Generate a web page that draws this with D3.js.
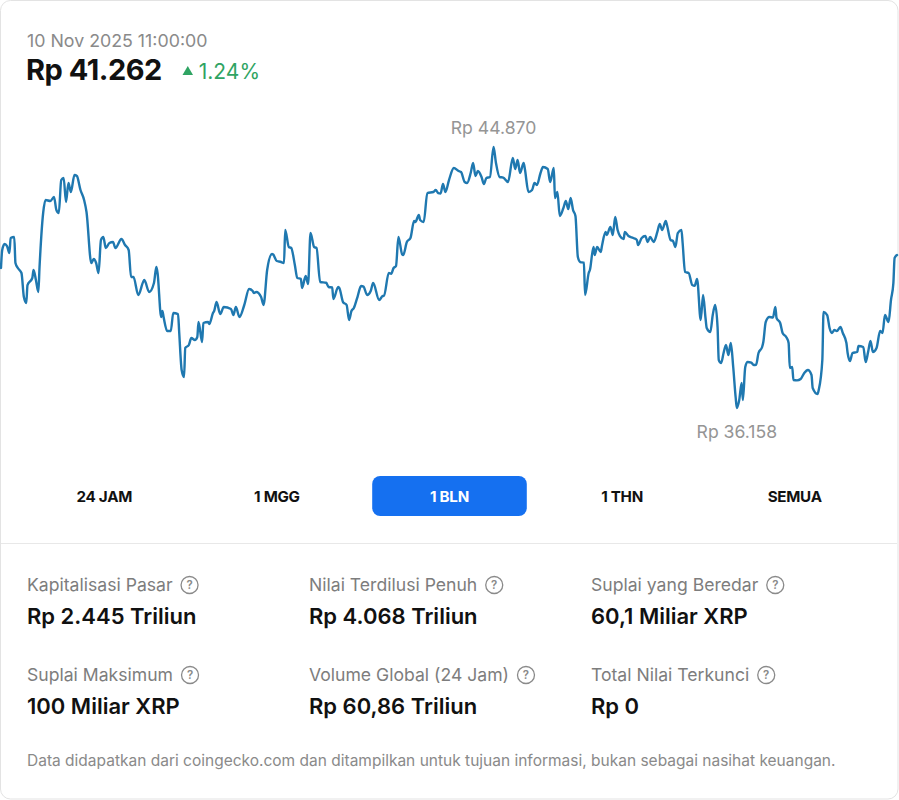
<!DOCTYPE html>
<html>
<head>
<meta charset="utf-8">
<script src="https://cdn.jsdelivr.net/npm/d3@7/dist/d3.min.js"></script>
<style>
  html, body { margin: 0; padding: 0; background: #fff; }
  svg { display: block; font-family: Inter, "Noto Sans", sans-serif; }
</style>
</head>
<body>
<svg id="chart" width="899" height="800"></svg>
<script>
// ---- data ----
const hours = [0,1,3,5,7,8,11,12,14,17,19,21,22,26,27,29,31,32,35,37,41,44,46,48,50,52,54,56,58,61,63,66,69,71,75,77,79,81,83,85,87,90,93,95,100,103,106,108,110,114,118,119,123,127,129,130,133,134,135,138,141,143,147,148,150,152,153,156,158,161,163,164,167,168,172,173,176,177,179,182,185,
191,193,195,198,202,206,209,210,212,216,218,221,225,226,229,232,235,236,239,241,244,246,249,250,253,255,257,260,262,265,270,272,275,276,280,281,284,287,289,291,293,296,299,301,304,307,309,314,317,318,322,324,326,328,330,333,334,337,340,343,344,347,348,351,354,359,361,363,
365,367,369,372,376,380,382,385,387,390,392,394,396,399,401,403,406,409,411,414,417,421,425,427,429,431,434,435,438,441,443,445,448,450,454,456,459,460,462,464,467,469,471,473,475,477,479,481,484,485,488,489,492,493,495,498,499,502,503,506,508,510,512,514,517,518,521,525,528,529,532,535,537,539,542,545,547,549,
552,553,556,558,560,562,565,566,568,571,574,576,578,581,583,585,586,589,591,593,595,596,598,600,602,604,606,608,610,611,613,615,616,618,620,623,625,627,629,632,633,635,638,641,643,644,647,649,652,654,655,657,658,661,664,667,670,673,674,678,679,682,683,686,688,690,692,694,697,699,702,703,705,707,711,712,716,718,720,722,724,727,730,732,734,737,739,741,742,744];
const prices = [40831,41432,41632,41565,41332,41832,41866,40998,40831,40664,39863,39663,40263,40497,40764,40430,40030,40864,42667,43101,43067,43201,42767,42667,43768,43835,43034,43668,43368,43935,43902,43435,43101,42700,40998,41131,40998,40664,41766,41866,41499,41666,41699,41499,41799,41599,41432,40530,40530,39930,40364,40430,40030,40330,40864,40664,39195,39396,39195,38728,38728,39329,39295,38661,37426,37192,38161,38261,38494,38428,38528,39028,38361,38995,39028,38962,39329,39396,39696,39295,39529,
39462,39262,39529,39195,39596,40130,40063,39996,40030,39863,39596,40764,41298,41280,41065,41040,40998,42099,41532,41500,40931,40497,40470,40163,40564,40297,41999,41532,41499,40364,40340,40197,40180,39796,40197,40163,39696,39596,39095,39396,39496,39863,40230,40210,39930,40063,40330,39763,39896,39900,40664,40640,40831,40898,41866,41298,41265,41699,41832,42400,42367,42600,42433,42367,43334,43368,43435,43334,
43320,43635,43368,43768,44169,44069,44036,43702,43668,44002,44336,43902,44069,43869,43635,43835,43869,44870,44336,43869,43850,43702,44503,44136,44436,44002,44336,44136,43368,43435,43668,43602,44002,44202,44136,43702,44169,43168,43368,42567,42834,43067,42800,43168,42767,42567,41198,41031,41010,39930,40664,40764,41532,41265,41532,41365,41565,42033,41932,42200,41932,42533,42099,41899,41799,42033,41899,41832,41766,41599,41832,41899,41699,41866,41699,42033,42300,42099,
42400,42266,41766,41732,41532,41999,42099,41666,40697,40664,40263,40240,40464,39095,39930,39162,38828,38694,39262,39596,38861,37760,37660,37994,38261,37927,38327,37526,36525,36158,36425,36992,36425,37526,37693,37670,37593,37600,37994,38194,38361,39028,39195,39180,39529,39162,38995,38661,38528,38327,37492,37526,37092,37080,37126,37326,37426,37259,36825,36625,36758,37760,39362,39262,38828,38661,38761,38728,38861,38661,38327,37994,37726,37994,38027,38227,38194,37693,38027,38394,38027,38161,38728,38661,39262,39028,39763,40330,41165,41262];

const timestampLabel = "10 Nov 2025 11:00:00";
const currentPrice = "Rp 41.262";
const changePct = "1.24%";
const rangeButtons = ["24 JAM", "1 MGG", "1 BLN", "1 THN", "SEMUA"];
const activeRange = "1 BLN";
const statLabels = ["Kapitalisasi Pasar", "Nilai Terdilusi Penuh", "Suplai yang Beredar", "Suplai Maksimum", "Volume Global (24 Jam)", "Total Nilai Terkunci"];
const statValues = ["Rp 2.445 Triliun", "Rp 4.068 Triliun", "60,1 Miliar XRP", "100 Miliar XRP", "Rp 60,86 Triliun", "Rp 0"];
const footnote = "Data didapatkan dari coingecko.com dan ditampilkan untuk tujuan informasi, bukan sebagai nasihat keuangan.";

// ---- drawing ----
const svg = d3.select("#chart");
const W = 899, H = 800;

svg.append("rect").attr("x", 0.5).attr("y", 0.5).attr("width", W - 1.5).attr("height", H - 1.5)
  .attr("rx", 10).attr("fill", "#fff").attr("stroke", "#e3e3e3");

svg.append("text").attr("x", 27).attr("y", 47).attr("font-size", 17.8).attr("fill", "#8a8a8a")
  .text(timestampLabel);
const priceT = svg.append("text").attr("x", 26).attr("y", 80).attr("font-size", 29).attr("font-weight", 700)
  .attr("letter-spacing", -0.5).attr("fill", "#111").text(currentPrice);
const pw = priceT.node().getComputedTextLength();
const tx = 26 + pw + 20;
svg.append("path").attr("d", d3.symbol().type(d3.symbolTriangle).size(48)())
  .attr("transform", `translate(${tx + 6},${72})`).attr("fill", "#2fa463");
svg.append("text").attr("x", tx + 17).attr("y", 79).attr("font-size", 21).attr("fill", "#2fa463")
  .text(changePct);

// line chart
const data = hours.map((h, i) => ({ h, p: prices[i] }));
const x = d3.scaleLinear().domain([0, 744]).range([1, 897]);
const y = d3.scaleLinear().domain([d3.min(prices), d3.max(prices)]).range([408, 147]);

const line = d3.line().x(d => x(d.h)).y(d => y(d.p)).curve(d3.curveMonotoneX);
svg.append("path").datum(data).attr("d", line).attr("fill", "none")
  .attr("stroke", "#1f78b0").attr("stroke-width", 2.4).attr("stroke-linejoin", "round").attr("stroke-linecap", "round");

const fmt = v => "Rp " + d3.format(",")(v).replace(/,/g, ".");
const maxD = data[d3.maxIndex(data, d => d.p)];
const minD = data[d3.minIndex(data, d => d.p)];
svg.append("text").attr("x", x(maxD.h)).attr("y", y(maxD.p) - 13).attr("text-anchor", "middle")
  .attr("font-size", 17.6).attr("fill", "#959595").text(fmt(maxD.p));
svg.append("text").attr("x", x(minD.h)).attr("y", y(minD.p) + 30).attr("text-anchor", "middle")
  .attr("font-size", 17.6).attr("fill", "#959595").text(fmt(minD.p));

// range buttons
const bx = d3.scaleBand().domain(rangeButtons).range([18, 881]);
const btn = svg.append("g").selectAll("g").data(rangeButtons).join("g")
  .attr("transform", d => `translate(${bx(d)},476)`);
btn.filter(d => d === activeRange).append("rect")
  .attr("x", 9).attr("width", bx.bandwidth() - 18).attr("height", 40).attr("rx", 8).attr("fill", "#1570f0");
btn.append("text").attr("x", bx.bandwidth() / 2).attr("y", 25.5).attr("text-anchor", "middle")
  .attr("font-size", 15.2).attr("font-weight", 700).attr("letter-spacing", -0.3)
  .attr("fill", d => d === activeRange ? "#fff" : "#111").text(d => d);

svg.append("line").attr("x1", 1).attr("x2", W - 2).attr("y1", 543.5).attr("y2", 543.5).attr("stroke", "#e8e8e8");

// stats grid
const colX = [27, 309, 591];
const rowY = [591, 681];
statLabels.forEach((lab, i) => {
  const cx = colX[i % 3], ry = rowY[Math.floor(i / 3)];
  const t = svg.append("text").attr("x", cx).attr("y", ry).attr("font-size", 17.6).attr("fill", "#7d7d7d").text(lab);
  const lw = t.node().getComputedTextLength();
  const ix = cx + lw + 17;
  svg.append("circle").attr("cx", ix).attr("cy", ry - 6).attr("r", 8.5).attr("fill", "none")
    .attr("stroke", "#8a8a8a").attr("stroke-width", 1.3);
  svg.append("text").attr("x", ix).attr("y", ry - 2).attr("text-anchor", "middle").attr("font-size", 11.5)
    .attr("font-weight", 600).attr("fill", "#8a8a8a").text("?");
  svg.append("text").attr("x", cx).attr("y", ry + 33).attr("font-size", 22).attr("font-weight", 600)
    .attr("fill", "#111").text(statValues[i]);
});

svg.append("text").attr("x", 27).attr("y", 766).attr("font-size", 15.5).attr("fill", "#8a8a8a").text(footnote);
</script>
</body>
</html>
